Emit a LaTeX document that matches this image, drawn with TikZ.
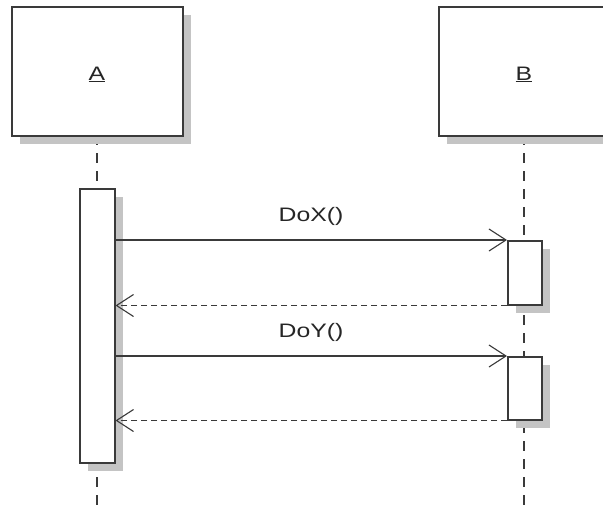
\documentclass[tikz,border=0pt]{standalone}
\usepackage{fontspec}
\setmainfont{Liberation Sans}
\usetikzlibrary{arrows.meta,shadows}
\definecolor{linegray}{HTML}{3A3A3A}
\definecolor{textgray}{HTML}{262626}
\definecolor{shadegray}{HTML}{C4C4C4}
\newcommand{\umltext}[1]{\scalebox{1.27}[1]{\fontsize{19.5}{22}\selectfont #1}}
\tikzset{
  objbox/.style={draw=linegray, line width=1.8pt, fill=white, anchor=north west,
    inner sep=0pt, text=textgray,
    drop shadow={shadow xshift=8pt, shadow yshift=-8pt, fill=shadegray, opacity=1}},
  actbox/.style={draw=linegray, line width=1.5pt, fill=white, anchor=north west,
    inner sep=0pt,
    drop shadow={shadow xshift=8pt, shadow yshift=-8pt, fill=shadegray, opacity=1}},
  lifeline/.style={draw=linegray, line width=1.6pt, dash pattern=on 10pt off 8pt},
  callmsg/.style={draw=linegray, line width=1.4pt,
    -{Straight Barb[length=17pt,width=22pt,line width=1.1pt]}},
  replymsg/.style={draw=linegray, line width=1.5pt, dash pattern=on 6pt off 4pt,
    -{Straight Barb[length=17pt,width=22pt,line width=1.1pt]}},
  msglabel/.style={text=textgray, inner sep=0pt, anchor=base}
}
\begin{document}
\begin{tikzpicture}[x=1pt,y=-1pt]
  \useasboundingbox (0,0) rectangle (603,506);
  \clip (0,0) rectangle (603,506);
  \fill[white] (0,0) rectangle (603,506);

  % lifelines, drawn first so the boxes cover them
  \coordinate (aend) at (97,510);
  \coordinate (bend) at (524,510);
  \draw[lifeline] (97,135) -- (aend);
  \draw[lifeline] (524,135) -- (bend);

  % object heads
  \node[objbox, minimum width=171pt, minimum height=129pt] (A) at (11,6) {};
  \node[objbox, minimum width=180pt, minimum height=129pt] (B) at (438,6) {};
  \node[text=textgray, inner sep=0pt, anchor=base] (Alabel) at (97,80) {\umltext{\underline{A}}};
  \node[text=textgray, inner sep=0pt, anchor=base] (Blabel) at (524,80) {\umltext{\underline{B}}};

  % activation bars
  \node[actbox, minimum width=35pt, minimum height=274pt] (actA) at (79,188) {};
  \node[actbox, minimum width=34pt, minimum height=64pt] (actB1) at (507,240) {};
  \node[actbox, minimum width=34pt, minimum height=63pt] (actB2) at (507,356) {};

  % calls and replies
  \draw[callmsg] (actA.east |- actB1.north west) -- (actB1.north west);
  \draw[replymsg] (actB1.south west) -- (actA.east |- actB1.south west);
  \draw[callmsg] (actA.east |- actB2.north west) -- (actB2.north west);
  \draw[replymsg] (actB2.south west) -- (actA.east |- actB2.south west);

  % message names
  \node[msglabel] (doX) at (311,221) {\umltext{DoX()}};
  \node[msglabel] (doY) at (311,337) {\umltext{DoY()}};
\end{tikzpicture}
\end{document}
